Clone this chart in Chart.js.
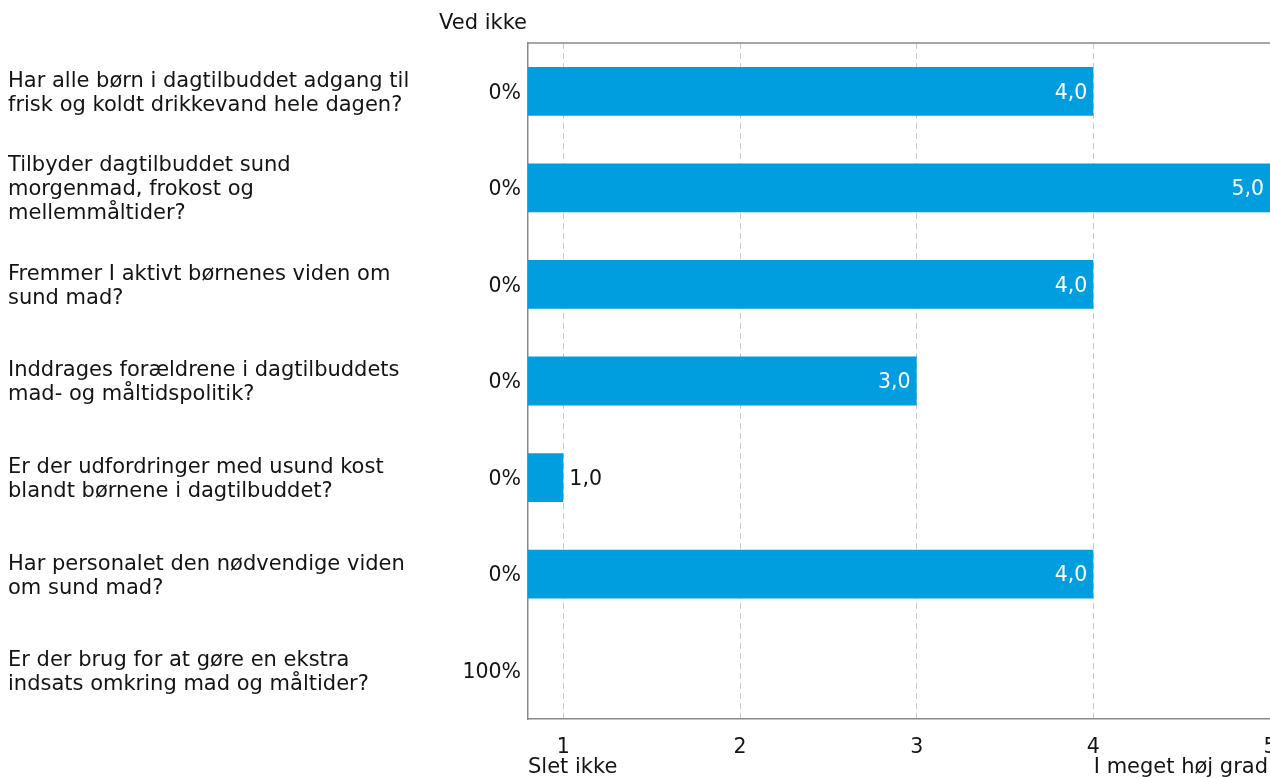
<!DOCTYPE html>
<html><head><meta charset="utf-8">
<script src="https://cdn.jsdelivr.net/npm/chart.js@4/dist/chart.umd.min.js"></script>
<style>html,body{margin:0;padding:0;background:#fff;overflow:hidden}#wrap{width:1270px;height:778px;position:relative}</style>
</head><body><div id="wrap"><canvas id="c"></canvas></div>
<script>
const questions = [
  ['Har alle børn i dagtilbuddet adgang til', 'frisk og koldt drikkevand hele dagen?'],
  ['Tilbyder dagtilbuddet sund', 'morgenmad, frokost og', 'mellemmåltider?'],
  ['Fremmer I aktivt børnenes viden om', 'sund mad?'],
  ['Inddrages forældrene i dagtilbuddets', 'mad- og måltidspolitik?'],
  ['Er der udfordringer med usund kost', 'blandt børnene i dagtilbuddet?'],
  ['Har personalet den nødvendige viden', 'om sund mad?'],
  ['Er der brug for at gøre en ekstra', 'indsats omkring mad og måltider?']
];
const averages = [4.0, 5.0, 4.0, 3.0, 1.0, 4.0, null];
const dontKnow = ['0%', '0%', '0%', '0%', '0%', '0%', '100%'];
const xTicks = [1, 2, 3, 4, 5];
const scaleEnds = ['Slet ikke', 'I meget høj grad'];
const dontKnowTitle = 'Ved ikke';

const FONT = 'DejaVu Sans';
const TXT = '#141414';
const BAR = '#009ddf';
const FRAME = '#8a8a8a';
const TEXT_SIZE = 21;
const NUM_SIZE = 20.5;
Chart.defaults.font.family = FONT;
Chart.defaults.font.size = NUM_SIZE;
Chart.defaults.color = TXT;

const extras = {
  id: 'extras',
  afterDraw(chart) {
    const ctx = chart.ctx, a = chart.chartArea;
    ctx.save();
    ctx.strokeStyle = FRAME; ctx.lineWidth = 1.5;
    ctx.beginPath(); ctx.moveTo(a.left, a.top); ctx.lineTo(a.right, a.top); ctx.stroke();
    ctx.fillStyle = TXT;
    ctx.textBaseline = 'middle';
    ctx.font = TEXT_SIZE + 'px "' + FONT + '"';
    ctx.textAlign = 'right';
    ctx.fillText(dontKnowTitle, a.left - 1, 24);
    ctx.textAlign = 'left';
    ctx.fillText(scaleEnds[0], a.left, 768);
    ctx.textAlign = 'right';
    ctx.fillText(scaleEnds[1], chart.width - 2, 768);
    ctx.font = NUM_SIZE + 'px "' + FONT + '"';
    const meta = chart.getDatasetMeta(0);
    meta.data.forEach((bar, i) => {
      const v = averages[i];
      if (v === null || v === undefined) return;
      const label = v.toFixed(1).replace('.', ',');
      const w = ctx.measureText(label).width;
      const len = bar.x - a.left;
      if (len > w + 12) {
        ctx.fillStyle = '#ffffff'; ctx.textAlign = 'right';
        ctx.fillText(label, bar.x - 6, bar.y + 2);
      } else {
        ctx.fillStyle = TXT; ctx.textAlign = 'left';
        ctx.fillText(label, bar.x + 6, bar.y + 2);
      }
    });
    ctx.restore();
  }
};

new Chart(document.getElementById('c'), {
  type: 'bar',
  data: {
    labels: questions,
    datasets: [{
      data: averages,
      backgroundColor: BAR,
      borderWidth: 0,
      categoryPercentage: 1,
      barPercentage: 0.505,
      yAxisID: 'y'
    }]
  },
  options: {
    indexAxis: 'y',
    responsive: true,
    maintainAspectRatio: false,
    animation: false,
    layout: { padding: { top: 43, left: 8, right: 0, bottom: 0 } },
    plugins: { legend: { display: false }, tooltip: { enabled: false } },
    scales: {
      x: {
        type: 'linear',
        min: 0.8, max: 5,
        afterBuildTicks(s) { s.ticks = xTicks.map(v => ({ value: v })); },
        afterFit(s) { s.height = 59; s.paddingLeft = 0; s.paddingRight = 0; },
        ticks: { padding: 16, color: TXT, font: { size: NUM_SIZE }, callback: v => String(v) },
        grid: { color: '#c8c8c8', lineWidth: 1, drawTicks: false },
        border: { display: true, color: FRAME, width: 1.5, dash: [6, 4] }
      },
      y: {
        type: 'category',
        position: 'left',
        weight: 0,
        offset: true,
        afterFit(s) { s.width = 100; },
        grid: { display: false, drawTicks: false, offset: true },
        border: { display: true, color: FRAME, width: 1.5 },
        ticks: {
          color: TXT, padding: 7, labelOffset: 2, font: { size: NUM_SIZE },
          callback: (v, i) => dontKnow[i]
        }
      },
      q: {
        type: 'category',
        position: 'left',
        weight: 1,
        offset: true,
        labels: questions,
        afterFit(s) { s.width = 420; },
        grid: { display: false, drawTicks: false, offset: true },
        border: { display: false },
        ticks: {
          color: TXT, padding: 0, crossAlign: 'far', labelOffset: 2,
          font: { size: TEXT_SIZE, lineHeight: 24 / TEXT_SIZE }
        }
      }
    }
  },
  plugins: [extras]
});
</script></body></html>
